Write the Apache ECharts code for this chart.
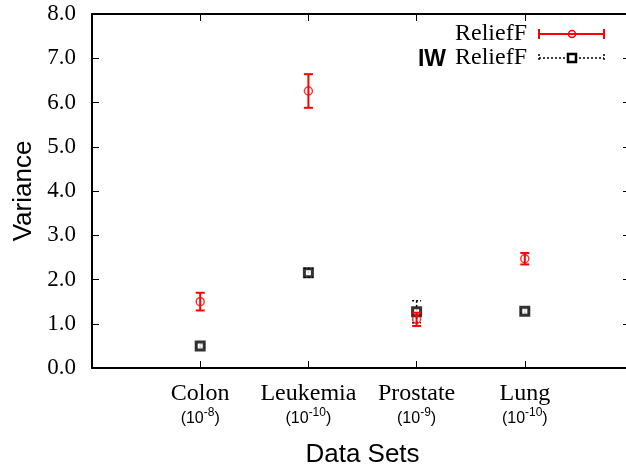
<!DOCTYPE html>
<html>
<head>
<meta charset="utf-8">
<script src="https://cdn.jsdelivr.net/npm/echarts@6/dist/echarts.min.js"></script>
<style>
html, body { margin: 0; padding: 0; background: #fff; }
#chart { width: 626px; height: 469px; }
</style>
</head>
<body>
<div id="chart"></div>
<script>
// data sets and their scale (exponent of 10)
var categories = ['Colon', 'Leukemia', 'Prostate', 'Lung'];
var scaleExp = ['-8', '-10', '-9', '-10'];
// ReliefF: mean and error
var reliefMean = [1.5, 6.26, 1.1, 2.47];
var reliefErr = [0.2, 0.38, 0.15, 0.13];
// IW ReliefF: mean and error
var iwMean = [0.5, 2.15, 1.27, 1.28];
var iwErr = [0.04, 0.1, 0.25, 0.04];
var yTicks = [0, 1, 2, 3, 4, 5, 6, 7, 8];

var serif = '"Liberation Serif", "DejaVu Serif", serif';
var sans = '"Liberation Sans", Arial, sans-serif';

function toPoints(mean, err) {
  return mean.map(function (v, i) { return [i + 1, v, err[i]]; });
}

function errorBar(color, dashed) {
  return function (params, api) {
    var x = api.value(0), y = api.value(1), e = api.value(2);
    var lo = api.coord([x, y - e]);
    var hi = api.coord([x, y + e]);
    var w = 4.5;
    var style = { stroke: color, lineWidth: dashed ? 1.5 : 2 };
    if (dashed) style.lineDash = [2, 2];
    return {
      type: 'group',
      children: [
        { type: 'line', shape: { x1: lo[0], y1: lo[1], x2: hi[0], y2: hi[1] }, style: style },
        { type: 'line', shape: { x1: lo[0] - w, y1: lo[1], x2: lo[0] + w, y2: lo[1] }, style: style },
        { type: 'line', shape: { x1: hi[0] - w, y1: hi[1], x2: hi[0] + w, y2: hi[1] }, style: style }
      ]
    };
  };
}

var myChart = echarts.init(document.getElementById('chart'));

var axisLine = { show: true, onZero: false, lineStyle: { color: '#000', width: 2 } };
var tick = { show: true, inside: true, length: 7, lineStyle: { color: '#000', width: 1 } };

var opt = {
  animation: false,
  grid: { left: 92, top: 14, width: 541, height: 354, outerBoundsMode: 'none', containLabel: false },
  xAxis: [
    {
      type: 'value', min: 0, max: 5, interval: 1, position: 'bottom',
      axisLine: axisLine, axisTick: tick,
      splitLine: { show: false },
      axisLabel: {
        margin: 13,
        formatter: function (v) {
          var i = v - 1;
          if (i < 0 || i >= categories.length) return '';
          return '{n|' + categories[i] + '}\n{p|(10}{s|' + scaleExp[i] + '}{p|)}';
        },
        rich: {
          n: { fontFamily: serif, fontSize: 24, color: '#000', lineHeight: 26 },
          p: { fontFamily: sans, fontSize: 16, color: '#000', lineHeight: 20, verticalAlign: 'bottom' },
          s: { fontFamily: sans, fontSize: 12, color: '#000', lineHeight: 8, verticalAlign: 'top' }
        }
      },
      name: 'Data Sets', nameLocation: 'middle', nameGap: 74,
      nameTextStyle: { fontFamily: sans, fontSize: 26, color: '#000' }
    },
    {
      type: 'value', min: 0, max: 5, interval: 1, position: 'top',
      axisLine: axisLine, axisTick: tick,
      axisLabel: { show: false },
      splitLine: { show: false }
    }
  ],
  yAxis: [
    {
      type: 'value', min: yTicks[0], max: yTicks[yTicks.length - 1], interval: 1, position: 'left',
      axisLine: axisLine, axisTick: tick,
      splitLine: { show: false },
      axisLabel: {
        margin: 16, fontFamily: serif, fontSize: 23, color: '#000',
        formatter: function (v) { return v.toFixed(1); }
      },
      name: 'Variance', nameLocation: 'middle', nameGap: 50, nameRotate: 90,
      nameTextStyle: { fontFamily: sans, fontSize: 26, color: '#000' }
    },
    {
      type: 'value', min: yTicks[0], max: yTicks[yTicks.length - 1], interval: 1, position: 'right',
      axisLine: axisLine,
      axisTick: { show: true, inside: true, length: 10, lineStyle: { color: '#000', width: 1 } },
      axisLabel: { show: false },
      splitLine: { show: false }
    }
  ],
  graphic: [
    { type: 'text', right: 99, top: 22, style: { text: 'ReliefF', font: '24px ' + serif, fill: '#000' } },
    { type: 'line', shape: { x1: 539, y1: 34, x2: 604, y2: 34 }, style: { stroke: '#f00', lineWidth: 2 } },
    { type: 'line', shape: { x1: 539, y1: 29, x2: 539, y2: 39 }, style: { stroke: '#f00', lineWidth: 2 } },
    { type: 'line', shape: { x1: 604, y1: 29, x2: 604, y2: 39 }, style: { stroke: '#f00', lineWidth: 2 } },
    { type: 'circle', shape: { cx: 572, cy: 34, r: 3.5 }, style: { fill: 'none', stroke: '#f00', lineWidth: 1.5 } },
    { type: 'text', right: 99, top: 46, style: { text: 'ReliefF', font: '24px ' + serif, fill: '#000' } },
    { type: 'text', right: 180, top: 48, style: { text: 'IW', font: 'bold 23px ' + sans, fill: '#000' } },
    { type: 'line', shape: { x1: 539, y1: 58, x2: 604, y2: 58 }, style: { stroke: '#000', lineWidth: 1.5, lineDash: [2, 2] } },
    { type: 'line', shape: { x1: 539, y1: 54, x2: 539, y2: 62 }, style: { stroke: '#000', lineWidth: 1.5, lineDash: [2, 2] } },
    { type: 'line', shape: { x1: 604, y1: 54, x2: 604, y2: 62 }, style: { stroke: '#000', lineWidth: 1.5, lineDash: [2, 2] } },
    { type: 'rect', shape: { x: 568, y: 54, width: 8, height: 8 }, style: { fill: '#fff', stroke: '#000', lineWidth: 2.5 } }
  ],
  series: [
    {
      name: 'IW ReliefF err', type: 'custom', xAxisIndex: 0, yAxisIndex: 0,
      renderItem: errorBar('#000', true), data: toPoints(iwMean, iwErr), z: 2
    },
    {
      name: 'IW ReliefF', type: 'scatter', xAxisIndex: 0, yAxisIndex: 0,
      symbol: 'rect', symbolSize: 8,
      itemStyle: { color: '#fff', borderColor: '#000', borderWidth: 3 },
      data: toPoints(iwMean, iwErr), z: 3
    },
    {
      name: 'ReliefF err', type: 'custom', xAxisIndex: 0, yAxisIndex: 0,
      renderItem: errorBar('#f00', false), data: toPoints(reliefMean, reliefErr), z: 4
    },
    {
      name: 'ReliefF', type: 'scatter', xAxisIndex: 0, yAxisIndex: 0,
      symbol: 'circle', symbolSize: 8,
      itemStyle: { color: 'rgba(0,0,0,0)', borderColor: '#f00', borderWidth: 1.5 },
      data: toPoints(reliefMean, reliefErr), z: 5
    }
  ]
};

myChart.setOption(opt);
</script>
</body>
</html>
